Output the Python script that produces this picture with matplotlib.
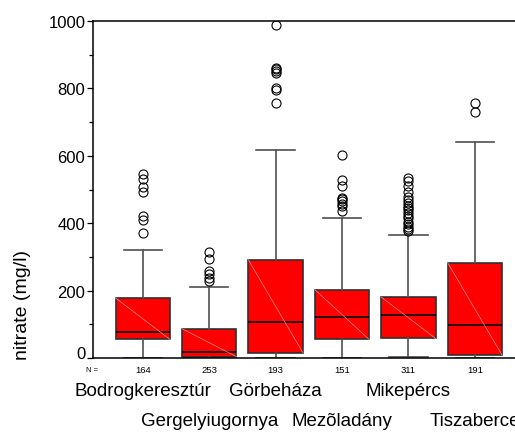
import numpy as np
import matplotlib
matplotlib.use("Agg")
import matplotlib.pyplot as plt
from matplotlib.transforms import blended_transform_factory, ScaledTranslation

plt.rcParams['font.family'] = ['Liberation Sans', 'DejaVu Sans']

sites = ['Bodrogkeresztúr', 'Gergelyiugornya', 'Görbeháza', 'Mezõladány', 'Mikepércs', 'Tiszaberce']
counts = [164, 253, 193, 151, 311, 191]
q1 = [55, 4, 16, 55, 58, 9]
median = [78, 18, 108, 121, 129, 99]
q3 = [178, 87, 291, 203, 181, 283]
whisker_low = [0, 0, 0, 0, 2, 0]
whisker_high = [321, 212, 617, 414, 365, 642]
outliers = [
    [545, 530, 507, 493, 420, 409, 372],
    [314, 293, 258, 248, 238, 228],
    [989, 862, 857, 852, 847, 800, 796, 758],
    [601, 527, 511, 476, 471, 466, 458, 451, 436],
    [535, 525, 510, 492, 478, 468, 460, 452, 445, 438, 430, 422, 415, 405, 398, 390, 383, 376],
    [758, 729],
]

positions = np.arange(1, len(sites) + 1)
box_w = 0.82

stats = []
for i in range(len(sites)):
    stats.append(dict(med=median[i], q1=q1[i], q3=q3[i],
                      whislo=whisker_low[i], whishi=whisker_high[i],
                      fliers=outliers[i], label=sites[i]))

fig = plt.figure(figsize=(5.15, 4.35), dpi=100)
ax = fig.add_axes([0.1806, 0.1747, 0.838, 0.7747])

ax.bxp(stats, positions=positions, widths=box_w, capwidths=0.58,
       patch_artist=True, showfliers=True,
       boxprops=dict(facecolor='#ff0000', edgecolor='#303030', linewidth=1.2),
       medianprops=dict(color='black', linewidth=1.2),
       whiskerprops=dict(color='#505050', linewidth=1.2),
       capprops=dict(color='#505050', linewidth=1.2),
       flierprops=dict(marker='o', markerfacecolor='none', markeredgecolor='black',
                       markersize=6.5, markeredgewidth=0.8))

# faint diagonal across each box
for i, p in enumerate(positions):
    ax.plot([p - box_w / 2, p + box_w / 2], [q3[i], q1[i]], color='#ff9090',
            linewidth=0.5, zorder=3)

ax.set_xlim(0.25, 6.75)
ax.set_ylim(0, 1000)
ax.set_yticks(np.arange(0, 1001, 200))
ax.set_yticks(np.arange(100, 1000, 200), minor=True)
ax.set_xticks([])
ax.tick_params(axis='y', which='major', length=4.5, width=0.9, labelsize=12, pad=1)
ax.tick_params(axis='y', which='minor', length=3, width=0.9)
ax.spines['right'].set_visible(False)
for s in ['left', 'bottom', 'top']:
    ax.spines[s].set_linewidth(1.1)
    ax.spines[s].set_zorder(4)

# lift the "0" label a little off the baseline
zero_lbl = ax.get_yticklabels()[0]
zero_lbl.set_transform(zero_lbl.get_transform() + ScaledTranslation(0, 6 / 100, fig.dpi_scale_trans))

fig.text(23 / 515, 1 - 360 / 435, 'nitrate (mg/l)', rotation=90, ha='center', va='bottom', fontsize=14)

trans = blended_transform_factory(ax.transData, fig.transFigure)
fig.text(92.5 / 515, 1 - 371 / 435, 'N =', fontsize=5.5, ha='center', va='center')
for i, p in enumerate(positions):
    ax.text(p, 1 - 371 / 435, str(counts[i]), transform=trans, fontsize=6.8,
            ha='center', va='center')
    row_y = 392 if i % 2 == 0 else 422
    ax.text(p, 1 - row_y / 435, sites[i], transform=trans, fontsize=13.5,
            ha='center', va='center', clip_on=False)

fig.savefig('out.png', dpi=100)
